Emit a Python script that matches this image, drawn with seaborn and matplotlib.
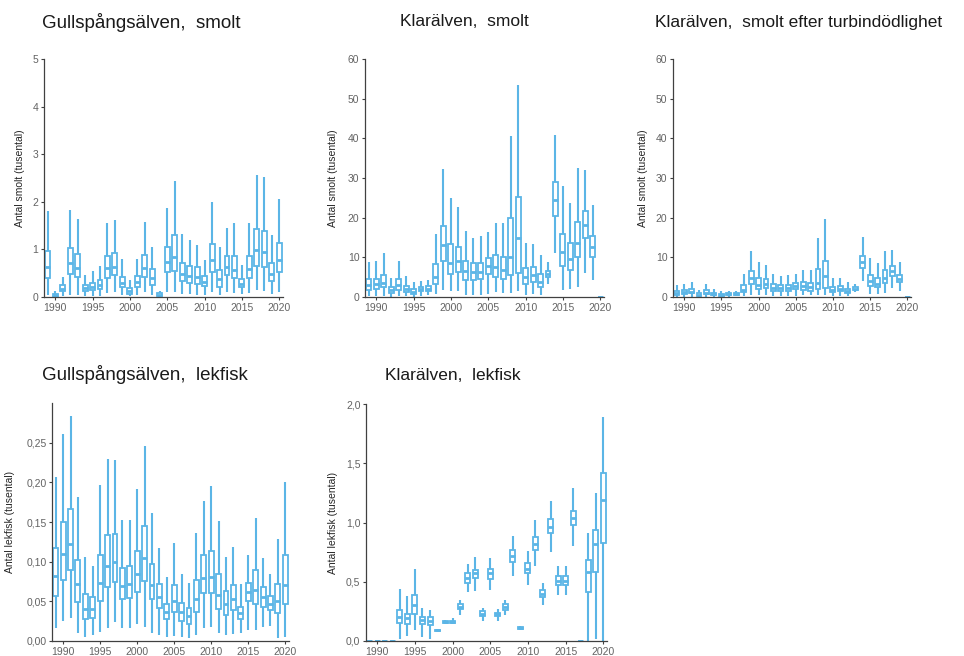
import numpy as np
import pandas as pd
import matplotlib
matplotlib.use("Agg")
import matplotlib.pyplot as plt
import seaborn as sns

sns.set_style("ticks")
plt.rcParams['font.family'] = ['Liberation Sans', 'DejaVu Sans']

years = list(range(1989, 2021))
tick_years = [1990, 1995, 2000, 2005, 2010, 2015, 2020]

# Gullspångsälven, smolt (tusental)
g_smolt_lo = [0.05, 0.00, 0.03, 0.05, 0.05, 0.02, 0.02, 0.03, 0.08, 0.10, 0.05, 0.02, 0.04, 0.10, 0.04, 0.00,
              0.10, 0.10, 0.07, 0.06, 0.05, 0.05, 0.10, 0.05, 0.10, 0.08, 0.07, 0.08, 0.15, 0.12, 0.07, 0.10]
g_smolt_q1 = [0.40, 0.01, 0.12, 0.48, 0.42, 0.12, 0.14, 0.17, 0.40, 0.47, 0.20, 0.07, 0.21, 0.42, 0.25, 0.03,
              0.52, 0.55, 0.33, 0.30, 0.28, 0.24, 0.53, 0.22, 0.47, 0.40, 0.20, 0.40, 0.66, 0.62, 0.34, 0.53]
g_smolt_med = [0.62, 0.04, 0.17, 0.71, 0.60, 0.18, 0.21, 0.26, 0.60, 0.64, 0.30, 0.12, 0.32, 0.61, 0.40, 0.05,
               0.73, 0.83, 0.48, 0.45, 0.41, 0.32, 0.78, 0.37, 0.64, 0.57, 0.28, 0.58, 0.98, 0.94, 0.49, 0.78]
g_smolt_q3 = [0.97, 0.06, 0.25, 1.02, 0.91, 0.25, 0.29, 0.36, 0.86, 0.93, 0.42, 0.18, 0.45, 0.88, 0.58, 0.08,
              1.05, 1.30, 0.72, 0.66, 0.62, 0.44, 1.12, 0.57, 0.86, 0.86, 0.38, 0.86, 1.43, 1.38, 0.72, 1.13]
g_smolt_hi = [1.80, 0.13, 0.43, 1.83, 1.63, 0.47, 0.55, 0.65, 1.55, 1.62, 0.79, 0.36, 0.79, 1.57, 1.05, 0.13,
              1.87, 2.43, 1.32, 1.20, 1.10, 0.78, 1.99, 1.04, 1.44, 1.56, 0.68, 1.55, 2.56, 2.52, 1.30, 2.05]

# Klarälven, smolt (tusental)
k_smolt_lo = [0.2, 0.3, 0.3, 0.1, 0.3, 0.2, 0.1, 0.3, 0.5, 0.8, 1.8, 1.5, 1.5, 0.5, 0.5, 0.6,
              0.8, 1.2, 1.0, 1.0, 1.5, 0.5, 0.8, 0.4, 3.2, 11.0, 1.8, 2.0, 2.5, 6.0, 4.2, 0.0]
k_smolt_q1 = [1.8, 2.0, 2.5, 1.0, 1.8, 1.3, 0.8, 1.4, 1.5, 3.2, 9.0, 5.8, 6.2, 4.3, 4.3, 4.5,
              5.8, 5.0, 4.5, 5.5, 6.0, 3.2, 3.8, 2.5, 5.1, 20.5, 7.7, 6.8, 10.0, 15.0, 10.2, 0.0]
k_smolt_med = [3.0, 3.2, 3.5, 1.8, 3.0, 2.0, 1.3, 1.9, 2.1, 5.0, 13.2, 8.6, 9.0, 6.5, 6.2, 6.3,
               7.7, 7.5, 6.9, 10.0, 15.0, 5.0, 5.6, 3.9, 5.9, 24.5, 11.3, 9.5, 13.7, 18.2, 12.7, 0.0]
k_smolt_q3 = [4.6, 4.6, 5.6, 2.5, 4.6, 2.8, 2.0, 2.5, 2.7, 8.3, 18.0, 13.4, 12.6, 9.2, 8.5, 8.6,
              9.8, 10.5, 10.1, 19.8, 25.2, 7.3, 7.6, 5.7, 6.6, 28.9, 16.0, 13.5, 19.0, 21.8, 15.4, 0.0]
k_smolt_hi = [8.7, 9.0, 11.0, 4.7, 9.0, 5.3, 3.8, 4.0, 4.3, 16.0, 32.3, 25.0, 22.7, 16.7, 15.0, 15.3,
              16.5, 18.7, 18.7, 40.5, 53.5, 13.7, 13.3, 10.7, 8.8, 40.8, 28.0, 23.8, 32.5, 31.9, 23.2, 0.0]

# Klarälven, smolt efter turbindödlighet (tusental)
kt_smolt_lo = [0.1, 0.1, 0.1, 0.05, 0.1, 0.05, 0.05, 0.1, 0.2, 0.3, 0.6, 0.5, 0.5, 0.2, 0.2, 0.2,
               0.3, 0.4, 0.4, 0.4, 0.5, 0.2, 0.3, 0.15, 1.2, 4.0, 0.7, 0.7, 0.9, 2.2, 1.5, 0.0]
kt_smolt_q1 = [0.6, 0.7, 0.9, 0.35, 0.65, 0.45, 0.3, 0.5, 0.55, 1.2, 3.3, 2.1, 2.2, 1.5, 1.5, 1.6,
               2.1, 1.8, 1.6, 2.0, 2.2, 1.2, 1.4, 0.9, 1.8, 7.4, 2.8, 2.4, 3.6, 5.4, 3.7, 0.0]
kt_smolt_med = [1.1, 1.2, 1.3, 0.6, 1.1, 0.7, 0.5, 0.7, 0.75, 1.8, 4.8, 3.1, 3.2, 2.3, 2.2, 2.3,
                2.8, 2.7, 2.5, 3.6, 5.4, 1.8, 2.0, 1.4, 2.1, 8.8, 4.1, 3.4, 4.9, 6.5, 4.6, 0.0]
kt_smolt_q3 = [1.6, 1.7, 2.0, 0.9, 1.7, 1.0, 0.7, 0.9, 1.0, 3.0, 6.5, 4.8, 4.5, 3.3, 3.0, 3.1,
               3.5, 3.8, 3.6, 7.1, 9.1, 2.6, 2.7, 2.1, 2.4, 10.4, 5.6, 4.8, 6.8, 7.8, 5.5, 0.0]
kt_smolt_hi = [3.1, 3.2, 3.9, 1.7, 3.2, 1.9, 1.4, 1.4, 1.5, 5.7, 11.5, 8.9, 8.1, 5.9, 5.4, 5.5,
               5.9, 6.7, 6.7, 14.8, 19.7, 4.9, 4.8, 3.9, 3.2, 15.2, 9.9, 8.5, 11.5, 11.9, 8.7, 0.0]

# Gullspångsälven, lekfisk (tusental)
g_lek_lo = [0.016, 0.025, 0.029, 0.010, 0.005, 0.008, 0.011, 0.016, 0.024, 0.016, 0.016, 0.022, 0.018, 0.010, 0.008, 0.005,
            0.006, 0.005, 0.004, 0.008, 0.016, 0.018, 0.010, 0.008, 0.009, 0.010, 0.014, 0.014, 0.018, 0.019, 0.004, 0.005]
g_lek_q1 = [0.057, 0.077, 0.089, 0.049, 0.028, 0.029, 0.050, 0.068, 0.074, 0.053, 0.054, 0.062, 0.076, 0.053, 0.042, 0.028,
            0.036, 0.025, 0.022, 0.037, 0.060, 0.060, 0.040, 0.033, 0.039, 0.028, 0.050, 0.047, 0.043, 0.039, 0.035, 0.047]
g_lek_med = [0.082, 0.110, 0.122, 0.072, 0.040, 0.040, 0.073, 0.095, 0.100, 0.069, 0.072, 0.084, 0.105, 0.071, 0.055, 0.037,
             0.050, 0.036, 0.031, 0.053, 0.080, 0.081, 0.058, 0.047, 0.053, 0.035, 0.062, 0.064, 0.055, 0.047, 0.050, 0.070]
g_lek_q3 = [0.117, 0.150, 0.167, 0.102, 0.059, 0.055, 0.109, 0.133, 0.135, 0.092, 0.094, 0.114, 0.145, 0.097, 0.072, 0.047,
            0.071, 0.048, 0.042, 0.077, 0.108, 0.113, 0.085, 0.063, 0.071, 0.043, 0.073, 0.089, 0.068, 0.057, 0.072, 0.108]
g_lek_hi = [0.207, 0.261, 0.283, 0.181, 0.106, 0.095, 0.197, 0.229, 0.228, 0.152, 0.152, 0.192, 0.246, 0.161, 0.117, 0.081,
            0.123, 0.084, 0.073, 0.136, 0.177, 0.195, 0.151, 0.106, 0.119, 0.072, 0.108, 0.155, 0.104, 0.085, 0.129, 0.201]

# Klarälven, lekfisk (tusental)
k_lek_lo = [0.0, 0.0, 0.0, 0.0, 0.02, 0.04, 0.09, 0.03, 0.02, 0.08, 0.14, 0.14, 0.22, 0.41, 0.42, 0.17,
            0.43, 0.17, 0.22, 0.55, 0.09, 0.47, 0.63, 0.30, 0.75, 0.39, 0.39, 0.80, 0.0, 0.0, 0.02, 0.0]
k_lek_q1 = [0.0, 0.0, 0.0, 0.0, 0.15, 0.14, 0.23, 0.14, 0.135, 0.085, 0.15, 0.15, 0.27, 0.49, 0.53, 0.21,
            0.52, 0.21, 0.26, 0.67, 0.10, 0.57, 0.77, 0.37, 0.91, 0.47, 0.47, 0.98, 0.0, 0.41, 0.58, 0.83]
k_lek_med = [0.0, 0.0, 0.0, 0.0, 0.20, 0.19, 0.30, 0.18, 0.17, 0.09, 0.16, 0.16, 0.29, 0.53, 0.57, 0.23,
             0.57, 0.225, 0.285, 0.72, 0.11, 0.61, 0.82, 0.40, 0.96, 0.51, 0.51, 1.04, 0.0, 0.58, 0.82, 1.19]
k_lek_q3 = [0.0, 0.0, 0.0, 0.0, 0.26, 0.23, 0.39, 0.20, 0.20, 0.095, 0.17, 0.17, 0.31, 0.57, 0.60, 0.25,
            0.61, 0.24, 0.31, 0.77, 0.12, 0.66, 0.88, 0.43, 1.03, 0.55, 0.55, 1.10, 0.0, 0.68, 0.94, 1.42]
k_lek_hi = [0.0, 0.0, 0.0, 0.0, 0.436, 0.38, 0.61, 0.28, 0.26, 0.10, 0.18, 0.19, 0.35, 0.65, 0.71, 0.28,
            0.70, 0.27, 0.35, 0.89, 0.13, 0.76, 1.02, 0.49, 1.18, 0.63, 0.63, 1.29, 0.0, 0.91, 1.25, 1.89]


def long_form(lo, q1, med, q3, hi):
    # five values per year -> quartiles and min/max reproduce the box stats
    rows = []
    for i, yr in enumerate(years):
        for v in (lo[i], q1[i], med[i], q3[i], hi[i]):
            rows.append({'year': str(yr), 'value': v})
    return pd.DataFrame(rows)


W, H = 964, 656
fig = plt.figure(figsize=(W / 100, H / 100), dpi=100)

blue = '#5BB5E6'
tick_col = '#636363'

panels = [
    dict(stats=(g_smolt_lo, g_smolt_q1, g_smolt_med, g_smolt_q3, g_smolt_hi),
         box=(44, 59, 283, 297), ylim=(0, 5), yticks=[0, 1, 2, 3, 4, 5], fmt='{:.0f}',
         ylabel='Antal smolt (tusental)', lab_x=25,
         title='Gullspångsälven,  smolt', tx=42, ty=22, tsize=13.5),
    dict(stats=(k_smolt_lo, k_smolt_q1, k_smolt_med, k_smolt_q3, k_smolt_hi),
         box=(365, 59, 604, 297), ylim=(0, 60), yticks=[0, 10, 20, 30, 40, 50, 60], fmt='{:.0f}',
         ylabel='Antal smolt (tusental)', lab_x=338,
         title='Klarälven,  smolt', tx=400, ty=22, tsize=12.5),
    dict(stats=(kt_smolt_lo, kt_smolt_q1, kt_smolt_med, kt_smolt_q3, kt_smolt_hi),
         box=(673, 59, 911, 297), ylim=(0, 60), yticks=[0, 10, 20, 30, 40, 50, 60], fmt='{:.0f}',
         ylabel='Antal smolt (tusental)', lab_x=648,
         title='Klarälven,  smolt efter turbindödlighet', tx=655, ty=22, tsize=12.5),
    dict(stats=(g_lek_lo, g_lek_q1, g_lek_med, g_lek_q3, g_lek_hi),
         box=(52, 403, 289, 641), ylim=(0, 0.30), yticks=[0, 0.05, 0.10, 0.15, 0.20, 0.25], fmt='{:.2f}',
         ylabel='Antal lekfisk (tusental)', lab_x=15,
         title='Gullspångsälven,  lekfisk', tx=42, ty=375, tsize=13.5),
    dict(stats=(k_lek_lo, k_lek_q1, k_lek_med, k_lek_q3, k_lek_hi),
         box=(366, 404, 607, 641), ylim=(0, 2.0), yticks=[0, 0.5, 1.0, 1.5, 2.0], fmt='{:.1f}',
         ylabel='Antal lekfisk (tusental)', lab_x=338,
         title='Klarälven,  lekfisk', tx=385, ty=375, tsize=12.5),
]

for p in panels:
    x0, y0, x1, y1 = p['box']
    ax = fig.add_axes([x0 / W, 1 - y1 / H, (x1 - x0) / W, (y1 - y0) / H])
    df = long_form(*p['stats'])
    sns.boxplot(data=df, x='year', y='value', order=[str(y) for y in years],
                whis=np.inf, width=0.66, color='white', linecolor=blue,
                linewidth=1.3, showcaps=False, medianprops=dict(linewidth=2.0),
                whiskerprops=dict(linewidth=1.5), ax=ax)
    ax.set_ylim(*p['ylim'])
    ax.set_xlim(-0.5, len(years) - 0.5)
    ax.set_yticks(p['yticks'])
    ax.set_yticklabels([p['fmt'].format(v).replace('.', ',') for v in p['yticks']])
    ax.set_xticks([years.index(y) for y in tick_years])
    ax.set_xticklabels([str(y) for y in tick_years])
    ax.tick_params(axis='both', labelsize=7.5, colors='#404040', labelcolor=tick_col,
                   length=2.5, width=0.8, pad=1.5)
    ax.set_xlabel('')
    ax.set_ylabel(p['ylabel'], fontsize=7.5, color='#262626')
    ax.yaxis.set_label_coords((p['lab_x'] - x0) / (x1 - x0), 0.5)
    sns.despine(ax=ax)
    for s in ('left', 'bottom'):
        ax.spines[s].set_color('#404040')
        ax.spines[s].set_linewidth(0.9)
    fig.text(p['tx'] / W, 1 - p['ty'] / H, p['title'], fontsize=p['tsize'],
             ha='left', va='center', color='#1a1a1a')

fig.savefig('out.png', dpi=100)
